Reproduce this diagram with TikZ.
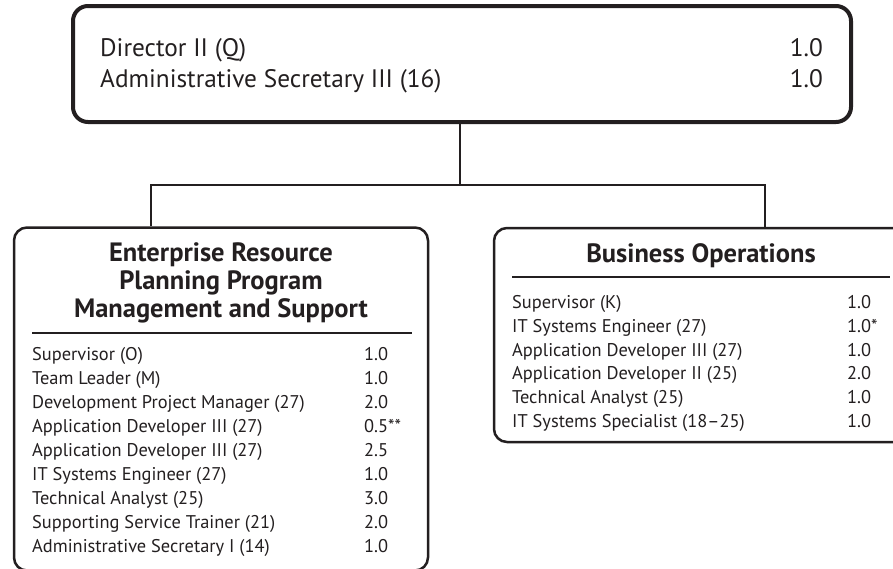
\documentclass[tikz,border=0pt]{standalone}
\usepackage{fontspec}
\setmainfont{PT Sans}
\definecolor{ink}{HTML}{231F20}
\begin{document}
\begin{tikzpicture}[x=1pt,y=-1pt,
  box/.style={draw=ink, line width=2.5pt, rounded corners=13pt, inner sep=0pt},
  topbox/.style={box, line width=4pt, rounded corners=15pt},
  item/.style={anchor=mid west, inner sep=0pt, text=ink, font=\fontsize{18.4}{20}\selectfont},
  bigitem/.style={item, font=\fontsize{25.3}{27}\selectfont},
  bignum/.style={anchor=mid east, inner sep=0pt, text=ink, font=\fontsize{25.3}{27}\selectfont},
  ttl/.style={anchor=mid, inner sep=0pt, text=ink, font=\bfseries\fontsize{26.5}{28}\selectfont},
  rulel/.style={draw=ink, line width=1.5pt},
  link/.style={draw=ink, line width=2.5pt}]
\useasboundingbox (0,0) rectangle (893,568);
\clip (0,0) rectangle (893,568);
% boxes
\node[topbox, minimum width=778pt, minimum height=116pt] (top) at (462,64) {};
\node[box, minimum width=414pt, minimum height=343pt] (left) at (221,399) {};
\node[box, minimum width=414pt, minimum height=214pt] (right) at (701,335) {};
% connectors
\coordinate (junc) at (460,185);
\coordinate (lj) at (151,185);
\coordinate (rj) at (765,185);
\draw[link] (junc |- top.south) -- (junc);
\draw[link] (lj |- left.north) -- (lj) -- (rj) -- (rj |- right.north);
% top box text
\node[bigitem] (t1) at (100,54) {Director II (Q)};
\node[bigitem] (t2) at (100,85) {Administrative Secretary III (16)};
\node[bignum] (t1n) at (823,54) {1.0};
\node[bignum] (t2n) at (823,85) {1.0};
% left box
\node[ttl] (lt1) at (221,259) {Enterprise Resource};
\node[ttl] (lt2) at (221,287) {Planning Program};
\node[ttl] (lt3) at (221,315) {Management and Support};
\coordinate (lsa) at (32,333);
\coordinate (lsb) at (412,333);
\draw[rulel] (lsa) -- (lsb);
\foreach \t/\n [count=\i from 0] in {Supervisor (O)/1.0, Team Leader (M)/1.0,
  Development Project Manager (27)/2.0, Application Developer III (27)/{0.5**},
  Application Developer III (27)/2.5, IT Systems Engineer (27)/1.0,
  Technical Analyst (25)/3.0, Supporting Service Trainer (21)/2.0,
  Administrative Secretary I (14)/1.0}{
  \node[item] (l\i) at (32,358+24*\i) {\t};
  \node[item] (ln\i) at (364,358+24*\i) {\n};
}
% right box
\node[ttl] (rt1) at (701,260) {Business Operations};
\coordinate (rsa) at (512,277);
\coordinate (rsb) at (890,277);
\draw[rulel] (rsa) -- (rsb);
\foreach \t/\n [count=\i from 0] in {Supervisor (K)/1.0, IT Systems Engineer (27)/{1.0*},
  Application Developer III (27)/1.0, Application Developer II (25)/2.0,
  Technical Analyst (25)/1.0, IT Systems Specialist (18–25)/1.0}{
  \node[item] (r\i) at (512,306+23.8*\i) {\t};
  \node[item] (rn\i) at (847,306+23.8*\i) {\n};
}
\end{tikzpicture}
\end{document}
